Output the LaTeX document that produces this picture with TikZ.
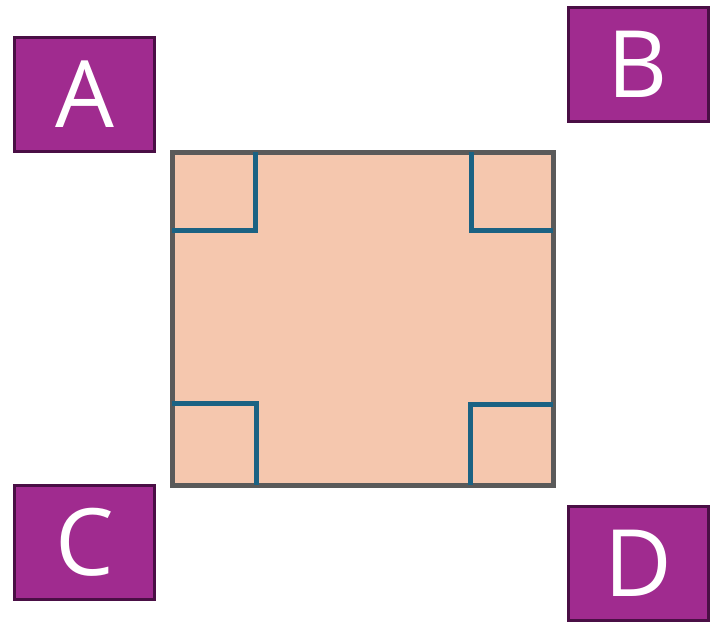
\documentclass[tikz,border=0pt]{standalone}
\usepackage{fontspec}
\setmainfont{Open Sans}
\usepackage{tikz}

\definecolor{sheetfill}{HTML}{F5C7AE}
\definecolor{sheetedge}{HTML}{5A5A5A}
\definecolor{cutline}{HTML}{1B6283}
\definecolor{tagfill}{HTML}{A02B8F}
\definecolor{tagedge}{HTML}{4A0F45}

\tikzset{
	tagbox/.style={draw=tagedge, fill=tagfill, line width=3pt,
		minimum width=140pt, minimum height=114pt, inner sep=0pt,
		text=white, font=\fontsize{93}{93}\selectfont},
	sheet/.style={draw=sheetedge, fill=sheetfill, line width=5pt},
	cut/.style={draw=cutline, line width=5pt}
}

\begin{document}
\begin{tikzpicture}[x=1pt,y=-1pt]
	
	\useasboundingbox (0,0) rectangle (710,624);
	
	\coordinate (tl) at (172,152);
	\coordinate (br) at (553,485);
	\draw[sheet] (tl) rectangle (br);
	
	\draw[cut] (255,152) -- (255,230) -- (172,230);
	\draw[cut] (471,152) -- (471,230) -- (553,230);
	\draw[cut] (172,403) -- (256,403) -- (256,485);
	\draw[cut] (470,485) -- (470,404) -- (553,404);
	
	\node[tagbox] (A) at (84.5,94.5) {A};
	\node[tagbox] (B) at (638,64) {B};
	\node[tagbox] (C) at (84.5,542) {C};
	\node[tagbox] (D) at (638,563) {D};
	
\end{tikzpicture}
\end{document}
